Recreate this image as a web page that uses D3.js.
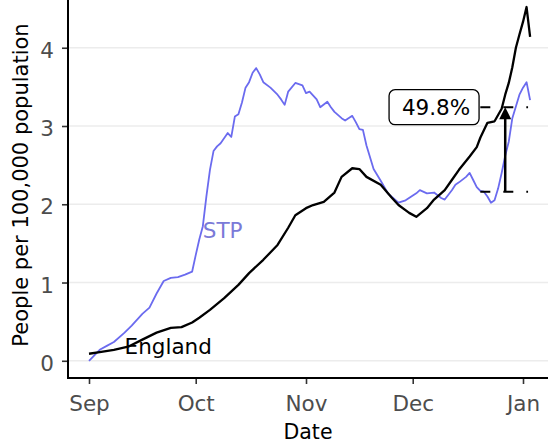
<!DOCTYPE html>
<html>
<head>
<meta charset="utf-8">
<script src="https://cdn.jsdelivr.net/npm/d3@7"></script>
<style>
    body { margin: 0; background: #fff; }
    svg { display: block; }
    text { font-family: "DejaVu Sans", sans-serif; }
</style>
</head>
<body>
<svg id="chart" width="548" height="443"></svg>
<script>

// STP series
var stpDates = [
    '2020-09-01', '2020-09-04', '2020-09-06', '2020-09-08', '2020-09-11', '2020-09-13',
    '2020-09-16', '2020-09-18', '2020-09-20', '2020-09-22', '2020-09-24', '2020-09-26',
    '2020-09-28', '2020-09-30', '2020-10-01', '2020-10-02', '2020-10-03', '2020-10-04',
    '2020-10-05', '2020-10-06', '2020-10-07', '2020-10-08', '2020-10-10', '2020-10-11',
    '2020-10-12', '2020-10-13', '2020-10-14', '2020-10-15', '2020-10-16', '2020-10-17',
    '2020-10-18', '2020-10-19', '2020-10-20', '2020-10-22', '2020-10-24', '2020-10-25',
    '2020-10-26', '2020-10-27', '2020-10-29', '2020-10-31', '2020-11-01', '2020-11-02',
    '2020-11-04', '2020-11-05', '2020-11-07', '2020-11-08', '2020-11-09', '2020-11-11',
    '2020-11-12', '2020-11-14', '2020-11-15', '2020-11-16', '2020-11-17', '2020-11-18',
    '2020-11-20', '2020-11-22', '2020-11-24', '2020-11-25', '2020-11-27', '2020-11-29',
    '2020-12-02', '2020-12-03', '2020-12-05', '2020-12-07', '2020-12-09', '2020-12-10',
    '2020-12-12', '2020-12-13', '2020-12-14', '2020-12-16', '2020-12-17', '2020-12-18',
    '2020-12-19', '2020-12-20', '2020-12-21', '2020-12-22', '2020-12-23', '2020-12-24',
    '2020-12-25', '2020-12-26', '2020-12-27', '2020-12-28', '2020-12-29', '2020-12-30',
    '2020-12-31', '2021-01-01', '2021-01-02', '2021-01-03'
];
var stpValues = [
    0.00, 0.14, 0.19, 0.24, 0.36, 0.45,
    0.60, 0.68, 0.86, 1.02, 1.06, 1.07,
    1.10, 1.14, 1.35, 1.55, 1.72, 2.10,
    2.44, 2.68, 2.74, 2.78, 2.91, 2.86,
    3.12, 3.15, 3.30, 3.49, 3.56, 3.68,
    3.74, 3.66, 3.56, 3.49, 3.40, 3.34,
    3.27, 3.44, 3.55, 3.52, 3.42, 3.44,
    3.34, 3.24, 3.31, 3.24, 3.18, 3.10,
    3.07, 3.13, 3.05, 2.96, 2.95, 2.75,
    2.45, 2.30, 2.14, 2.10, 2.02, 2.05,
    2.14, 2.18, 2.14, 2.15, 2.08, 2.06,
    2.18, 2.25, 2.28, 2.35, 2.40, 2.31,
    2.22, 2.17, 2.16, 2.10, 2.02, 2.05,
    2.20, 2.40, 2.62, 2.80, 3.10, 3.25,
    3.40, 3.49, 3.56, 3.33
];

// England series
var englandDates = [
    '2020-09-01', '2020-09-04', '2020-09-08', '2020-09-12', '2020-09-16', '2020-09-20',
    '2020-09-24', '2020-09-27', '2020-09-30', '2020-10-02', '2020-10-05', '2020-10-09',
    '2020-10-13', '2020-10-16', '2020-10-20', '2020-10-24', '2020-10-27', '2020-10-29',
    '2020-11-01', '2020-11-03', '2020-11-06', '2020-11-09', '2020-11-11', '2020-11-14',
    '2020-11-16', '2020-11-18', '2020-11-22', '2020-11-25', '2020-11-27', '2020-11-30',
    '2020-12-02', '2020-12-05', '2020-12-07', '2020-12-10', '2020-12-12', '2020-12-14',
    '2020-12-17', '2020-12-19', '2020-12-20', '2020-12-22', '2020-12-24', '2020-12-25',
    '2020-12-26', '2020-12-27', '2020-12-28', '2020-12-29', '2020-12-30', '2020-12-31',
    '2021-01-01', '2021-01-02', '2021-01-03'
];
var englandValues = [
    0.09, 0.11, 0.14, 0.18, 0.27, 0.36,
    0.42, 0.43, 0.49, 0.55, 0.65, 0.80,
    0.97, 1.12, 1.29, 1.48, 1.70, 1.86,
    1.95, 1.99, 2.03, 2.15, 2.35, 2.46,
    2.45, 2.35, 2.25, 2.09, 1.99, 1.89,
    1.84, 1.95, 2.06, 2.18, 2.31, 2.44,
    2.61, 2.73, 2.85, 3.04, 3.06, 3.14,
    3.22, 3.40, 3.55, 3.75, 4.00, 4.17,
    4.33, 4.52, 4.14
];

var yTicks = [0, 1, 2, 3, 4];
var monthTicks = ['2020-09-01', '2020-10-01', '2020-11-01', '2020-12-01', '2021-01-01'];

// direct labels on the lines
var labelTexts = ['STP', 'England'];
var labelDates = ['2020-10-03', '2020-09-11'];
var labelValues = [1.57, 0.09];
var labelColors = ['#7a7ad8', '#000'];

// the increase annotation
var arrowDate = '2020-12-27';
var arrowFrom = 2.16;
var arrowTo = 3.24;
var refDates = ['2020-12-20', '2021-01-02'];
var refValues = [3.24, 2.16];
var noteDate = '2020-12-07';
var noteText = '49.8%';

var parse = d3.utcParse('%Y-%m-%d');
var svg = d3.select('#chart');

var left = 68, right = 548, bottom = 378;

var x = d3.scaleUtc()
    .domain([parse('2020-09-01'), parse('2021-01-01')])
    .range([89, 523]);
var y = d3.scaleLinear()
    .domain([-0.22, 4.61])
    .range([bottom, 0]);

// grid
svg.append('g').selectAll('line')
    .data(yTicks)
    .enter().append('line')
    .attr('x1', left).attr('x2', right)
    .attr('y1', d => y(d)).attr('y2', d => y(d))
    .attr('stroke', '#ececec')
    .attr('stroke-width', 1.5);

var line = d3.line()
    .x(d => x(d[0]))
    .y(d => y(d[1]));

var stp = stpDates.map((d, i) => [parse(d), stpValues[i]]);
var england = englandDates.map((d, i) => [parse(d), englandValues[i]]);

svg.append('path')
    .datum(stp)
    .attr('d', line)
    .attr('fill', 'none')
    .attr('stroke', '#6b6bef')
    .attr('stroke-width', 1.8)
    .attr('stroke-linejoin', 'round');

svg.append('path')
    .datum(england)
    .attr('d', line)
    .attr('fill', 'none')
    .attr('stroke', '#000')
    .attr('stroke-width', 2.3)
    .attr('stroke-linejoin', 'round');

svg.append('g').selectAll('text')
    .data(labelTexts)
    .enter().append('text')
    .attr('x', (d, i) => x(parse(labelDates[i])))
    .attr('y', (d, i) => y(labelValues[i]))
    .attr('fill', (d, i) => labelColors[i])
    .attr('font-size', 21.5)
    .text(d => d);

// dashed reference lines
svg.append('g').selectAll('line')
    .data(refValues)
    .enter().append('line')
    .attr('x1', x(parse(refDates[0]))).attr('x2', x(parse(refDates[1])) + 1.5)
    .attr('y1', d => y(d)).attr('y2', d => y(d))
    .attr('stroke', '#000')
    .attr('stroke-width', 2)
    .attr('stroke-dasharray', '10,13');

// arrow
var ax = x(parse(arrowDate));
svg.append('line')
    .attr('x1', ax).attr('x2', ax)
    .attr('y1', y(arrowFrom)).attr('y2', y(arrowTo) + 8)
    .attr('stroke', '#000')
    .attr('stroke-width', 2.5);
svg.append('path')
    .attr('d', 'M' + ax + ',' + y(arrowTo) + 'l6,12l-12,0z')
    .attr('fill', '#000');

// label box
var nx = x(parse(noteDate)), ny = y(arrowTo);
var note = svg.append('g').attr('transform', 'translate(' + nx + ',' + ny + ')');
note.append('rect')
    .attr('x', -45).attr('y', -17.5)
    .attr('width', 90).attr('height', 35)
    .attr('rx', 6)
    .attr('fill', '#fff')
    .attr('stroke', '#000')
    .attr('stroke-width', 1.3);
note.append('text')
    .attr('x', 2).attr('y', 7.5)
    .attr('text-anchor', 'middle')
    .attr('font-size', 21.5)
    .text(noteText);

// axes
var yAxis = svg.append('g')
    .attr('transform', 'translate(' + left + ',0)')
    .call(d3.axisLeft(y).tickValues(yTicks).tickFormat(d3.format('d'))
        .tickSize(6).tickPadding(8));
var xAxis = svg.append('g')
    .attr('transform', 'translate(0,' + bottom + ')')
    .call(d3.axisBottom(x).tickValues(monthTicks.map(parse))
        .tickFormat(d3.utcFormat('%b')).tickSize(6));

[yAxis, xAxis].forEach(function (g) {
    g.select('.domain').remove();
    g.selectAll('.tick line').attr('stroke', '#333').attr('stroke-width', 1.6);
    g.selectAll('.tick text')
        .attr('fill', '#4d4d4d')
        .attr('font-size', 21.5)
        .attr('font-family', '"DejaVu Sans", sans-serif');
});
yAxis.selectAll('.tick text').attr('dy', '0.45em');
xAxis.selectAll('.tick text').attr('y', 33).attr('dy', 0);

svg.append('line')
    .attr('x1', left).attr('x2', left)
    .attr('y1', 0).attr('y2', bottom + 1)
    .attr('stroke', '#000').attr('stroke-width', 2);
svg.append('line')
    .attr('x1', left - 1).attr('x2', right)
    .attr('y1', bottom).attr('y2', bottom)
    .attr('stroke', '#000').attr('stroke-width', 2);

// titles
svg.append('text')
    .attr('x', 308).attr('y', 439)
    .attr('text-anchor', 'middle')
    .attr('font-size', 20.5)
    .text('Date');
svg.append('text')
    .attr('transform', 'translate(28,185) rotate(-90)')
    .attr('text-anchor', 'middle')
    .attr('font-size', 21)
    .text('People per 100,000 population');

</script>
</body>
</html>
